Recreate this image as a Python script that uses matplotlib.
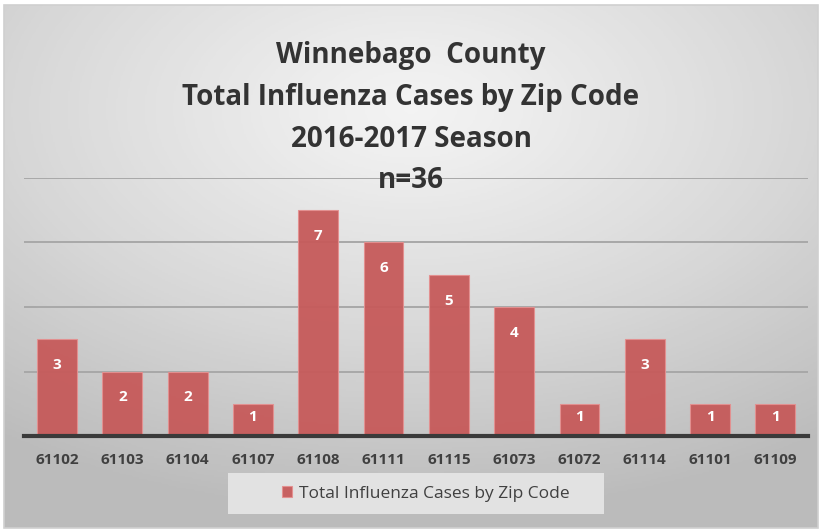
import numpy as np
import matplotlib.pyplot as plt
from matplotlib.patches import Rectangle

zip_codes = ['61102', '61103', '61104', '61107', '61108', '61111',
             '61115', '61073', '61072', '61114', '61101', '61109']
cases = [3, 2, 2, 1, 7, 6, 5, 4, 1, 3, 1, 1]
title_lines = ['Winnebago  County', 'Total Influenza Cases by Zip Code',
               '2016-2017 Season', 'n=36']
series_name = 'Total Influenza Cases by Zip Code'

plt.rcParams['font.family'] = ['Open Sans', 'DejaVu Sans']

W, H = 822, 531
fig = plt.figure(figsize=(W / 100, H / 100), dpi=100)
fig.patch.set_facecolor('white')

# radial gray gradient background for the chart area
bg = fig.add_axes([0.005, 0.006, 0.99, 0.985], zorder=0)
yy, xx = np.mgrid[0:1:300j, 0:1:500j]
r = np.sqrt(((xx - 0.5) * 1.0) ** 2 + ((yy - 0.2) * 1.1) ** 2)
grad = np.clip(r / 0.85, 0, 1)
bg.imshow(grad, cmap='Greys', vmin=-0.35, vmax=3.2, aspect='auto',
          extent=[0, 1, 1, 0], interpolation='bilinear')
bg.set_axis_off()
fig.patches.append(Rectangle((0.005, 0.006), 0.99, 0.985, transform=fig.transFigure,
                             fill=False, edgecolor='#d0d0d0', linewidth=1.2, zorder=1))

ax = fig.add_axes([24.4 / W, 1 - 436 / H, 783.6 / W, 258 / H], zorder=2)
ax.patch.set_alpha(0)
x = np.arange(len(zip_codes))
ax.bar(x, cases, width=0.61, color='#c65a5a', edgecolor='#e49090',
       linewidth=0.8, alpha=0.95, zorder=3, label=series_name)

for xi, v in zip(x, cases):
    ax.text(xi, max(v - 0.8, v / 2 + 0.1), str(v), ha='center', va='center',
            color='white', fontsize=11, fontweight='bold', zorder=4)

ax.set_xlim(-0.5, len(zip_codes) - 0.5)
ax.set_ylim(0, 8)
ax.set_yticks([2, 4, 6, 8])
ax.yaxis.grid(True, color='#a8a8a8', linewidth=1.4, zorder=1)
ax.tick_params(axis='y', left=False, labelleft=False)
ax.tick_params(axis='x', length=0, pad=12)
ax.set_xticks(x)
ax.set_xticklabels(zip_codes, fontsize=11, fontweight='bold', color='#404040')
for s in ['top', 'right', 'left']:
    ax.spines[s].set_visible(False)
ax.spines['bottom'].set_color('#3a3a3a')
ax.spines['bottom'].set_linewidth(3)
ax.spines['bottom'].set_zorder(5)

title_y = [55, 98, 139, 181]
for line, py in zip(title_lines, title_y):
    fig.text(0.5, 1 - py / H, line, ha='center', va='center',
             fontsize=20, fontweight='bold', color='#333333', zorder=6)

# legend box
fig.patches.append(Rectangle((228 / W, 1 - 514 / H), 376 / W, 41 / H,
                             transform=fig.transFigure, facecolor='#e2e2e2',
                             edgecolor='none', zorder=1.5))
leg = fig.legend(loc='center', bbox_to_anchor=(426 / W, 1 - 494 / H),
                 frameon=False, fontsize=12.5, handlelength=0.6, handleheight=0.6,
                 handletextpad=0.4)
for t in leg.get_texts():
    t.set_color('#404040')

fig.savefig('out.png', dpi=100)
